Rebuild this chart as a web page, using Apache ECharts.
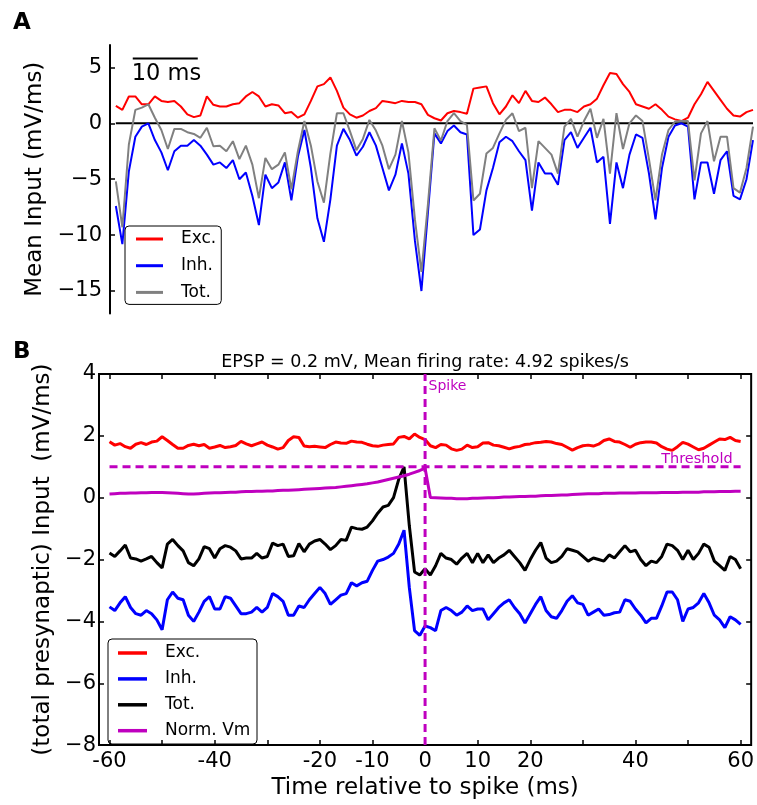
<!DOCTYPE html>
<html>
<head>
<meta charset="utf-8">
<script src="https://cdn.jsdelivr.net/npm/echarts@6/dist/echarts.min.js"></script>
<style>
  html, body { margin: 0; padding: 0; background: #fff; }
  #panelA { position: absolute; left: 0; top: 0; width: 757px; height: 330px; }
  #panelB { position: absolute; left: 0; top: 330px; width: 757px; height: 475px; }
</style>
</head>
<body>
<div id="panelA"></div>
<div id="panelB"></div>
<script>
// ---------- Panel A: mean input over a 100 ms window (1 ms samples) ----------
const excA = [
  1.55,1.2,2.4,2.4,1.7,1.7,2.4,2.0,1.9,2.0,
  1.5,0.8,0.55,0.7,2.4,1.65,1.5,1.5,1.7,1.8,
  2.4,2.8,2.4,1.5,1.7,1.6,0.9,1.0,0.5,0.8,
  2.0,3.3,3.5,4.1,2.9,1.4,0.8,0.5,0.7,1.1,
  1.35,2.0,1.9,1.8,2.0,1.9,1.9,1.7,0.75,0.45,
  0.25,0.9,1.1,1.0,0.85,3.1,3.2,3.3,1.8,0.8,
  1.5,2.5,1.8,2.9,2.0,1.9,2.3,1.7,1.0,1.2,
  1.2,1.0,1.5,1.7,2.2,3.4,4.5,4.4,3.5,2.8,
  1.7,1.5,1.3,1.7,1.2,0.6,0.35,0.2,0.5,1.7,
  2.6,3.7,2.9,2.1,1.3,0.7,0.6,1.0,1.2
];
const inhA = [
  -7.4,-10.8,-4.3,-1.2,-0.3,0,-1.5,-2.6,-4.2,-2.5,
  -2.0,-2.0,-1.5,-2.0,-2.8,-3.7,-3.5,-4.0,-3.3,-5.0,
  -4.4,-6.5,-9.1,-4.6,-5.8,-5.3,-3.5,-6.9,-3.0,-0.6,
  -4.0,-8.5,-10.6,-6.8,-2.0,-0.5,-1.5,-2.9,-2.1,-0.8,
  -2.0,-4.0,-6.0,-4.6,-1.8,-4.5,-10.5,-15.0,-8.0,-0.9,
  -1.8,-0.7,-0.2,-0.8,-1.0,-10.0,-9.5,-6.0,-4.0,-1.7,
  -1.2,-1.6,-2.5,-3.3,-7.8,-3.5,-4.5,-4.5,-5.5,-1.5,
  -0.8,-2.2,-1.3,-0.4,-3.5,-3.0,-9.0,-3.5,-5.8,-2.8,
  -1.0,-1.3,-4.5,-8.6,-4.0,-1.2,-0.2,0,-0.3,-6.8,
  -3.5,-3.5,-6.3,-3.3,-2.5,-6.5,-6.8,-5.0,-1.5
];
const totA = [
  -5.2,-9.3,-1.9,1.2,1.4,1.7,0.5,-0.6,-2.3,-0.5,
  -0.5,-0.8,-0.95,-1.3,-0.4,-2.05,-2.0,-2.5,-1.6,-3.2,
  -2.0,-3.7,-6.7,-3.1,-4.1,-3.7,-2.6,-5.9,-2.5,0.2,
  -2.0,-5.2,-7.1,-2.7,0.9,0.9,-0.7,-2.4,-1.4,0.3,
  -0.65,-2.0,-4.1,-2.8,0.2,-2.6,-8.6,-13.3,-7.25,-0.45,
  -1.55,0.2,0.9,0.2,-0.15,-6.9,-6.3,-2.7,-2.2,-0.9,
  0.3,0.9,-0.7,-0.4,-5.8,-1.6,-2.2,-2.8,-4.5,-0.3,
  0.4,-1.2,0.2,1.3,-1.3,0.4,-4.5,0.9,-2.3,0.0,
  0.7,0.2,-3.2,-6.9,-2.8,-0.6,0.15,0.2,0.2,-5.1,
  -0.9,0.2,-3.4,-1.2,-1.2,-5.8,-6.2,-4.0,-0.3
];
const yTicksA = [-15, -10, -5, 0, 5];
const scaleBarMs = [2.6, 12.6];   // 10 ms scale bar
const scaleBarLevel = 5.8;
const stepA = 1;                  // ms between samples

// ---------- Panel B: spike-triggered averages (1 ms samples, -60..60 ms) ----------
const excB = [
  1.81,1.7,1.75,1.65,1.6,1.73,1.78,1.72,1.8,1.83,
  1.97,1.85,1.72,1.6,1.6,1.69,1.73,1.68,1.72,1.6,
  1.64,1.69,1.62,1.65,1.69,1.82,1.74,1.68,1.74,1.8,
  1.7,1.64,1.57,1.62,1.85,1.97,1.95,1.67,1.65,1.66,
  1.64,1.62,1.72,1.8,1.77,1.76,1.83,1.8,1.79,1.73,
  1.68,1.66,1.7,1.72,1.74,1.95,1.98,1.9,2.06,1.95,
  1.88,1.68,1.62,1.72,1.7,1.58,1.53,1.57,1.7,1.62,
  1.65,1.77,1.78,1.7,1.68,1.63,1.58,1.63,1.66,1.72,
  1.74,1.78,1.79,1.82,1.8,1.75,1.72,1.63,1.54,1.62,
  1.68,1.7,1.67,1.73,1.85,1.9,1.82,1.8,1.72,1.63,
  1.73,1.78,1.8,1.8,1.77,1.65,1.57,1.53,1.65,1.79,
  1.73,1.64,1.55,1.6,1.7,1.8,1.9,1.88,1.95,1.85,
  1.82
];
const inhB = [
  -3.53,-3.65,-3.4,-3.2,-3.55,-3.75,-3.8,-3.65,-3.75,-3.95,
  -4.27,-3.3,-3.05,-3.25,-3.3,-3.8,-4.0,-3.7,-3.35,-3.2,
  -3.6,-3.6,-3.2,-3.25,-3.5,-3.75,-3.75,-3.7,-3.55,-3.7,
  -3.55,-3.1,-3.2,-3.35,-3.8,-3.8,-3.5,-3.55,-3.3,-3.1,
  -2.9,-3.1,-3.45,-3.3,-3.15,-3.1,-2.75,-2.85,-2.75,-2.7,
  -2.35,-2.05,-2.0,-1.92,-1.8,-1.5,-1.05,-2.9,-4.3,-4.45,
  -4.15,-4.2,-4.3,-3.65,-3.55,-3.65,-3.8,-3.7,-3.5,-3.65,
  -3.6,-3.6,-3.95,-3.75,-3.55,-3.4,-3.3,-3.55,-3.75,-4.05,
  -3.75,-3.45,-3.2,-3.65,-3.85,-3.9,-3.65,-3.35,-3.17,-3.4,
  -3.45,-3.8,-3.7,-3.6,-3.8,-3.78,-3.72,-3.7,-3.3,-3.35,
  -3.6,-3.8,-4.05,-3.9,-3.9,-3.5,-3.05,-3.05,-3.3,-4.0,
  -3.6,-3.55,-3.4,-3.1,-3.4,-3.8,-3.95,-4.2,-3.85,-3.95,
  -4.1
];
const totB = [
  -1.79,-1.9,-1.72,-1.53,-1.95,-1.98,-2.05,-1.98,-1.9,-2.1,
  -2.27,-1.5,-1.35,-1.55,-1.72,-2.1,-2.2,-1.98,-1.58,-1.65,
  -1.95,-1.65,-1.55,-1.6,-1.72,-1.98,-1.95,-1.95,-1.8,-1.95,
  -1.9,-1.47,-1.55,-1.5,-1.9,-1.88,-1.48,-1.75,-1.5,-1.4,
  -1.35,-1.5,-1.68,-1.55,-1.35,-1.38,-0.95,-1.0,-1.02,-0.95,
  -0.75,-0.5,-0.3,-0.25,0.0,0.6,1.0,-0.9,-2.4,-2.5,
  -2.3,-2.5,-2.2,-1.8,-1.95,-2.0,-2.15,-1.95,-1.8,-2.1,
  -1.8,-2.1,-1.85,-2.1,-1.95,-1.85,-1.7,-1.9,-2.1,-2.35,
  -2.0,-1.7,-1.45,-1.95,-2.1,-2.05,-1.9,-1.65,-1.7,-1.75,
  -1.9,-2.05,-1.95,-2.0,-2.05,-1.85,-1.95,-1.75,-1.55,-1.75,
  -1.7,-2.0,-2.2,-2.05,-2.1,-1.9,-1.5,-1.55,-1.7,-2.0,
  -1.7,-2.0,-1.8,-1.5,-1.6,-2.05,-2.2,-2.35,-1.9,-2.0,
  -2.3
];
const vmB = [
  0.12,0.13,0.14,0.14,0.15,0.15,0.16,0.16,0.17,0.17,
  0.17,0.16,0.15,0.14,0.13,0.12,0.12,0.13,0.14,0.15,
  0.16,0.16,0.17,0.18,0.18,0.19,0.2,0.2,0.21,0.21,
  0.22,0.22,0.23,0.24,0.24,0.25,0.26,0.27,0.28,0.29,
  0.3,0.31,0.32,0.33,0.35,0.37,0.39,0.41,0.43,0.45,
  0.48,0.51,0.55,0.59,0.63,0.67,0.71,0.76,0.82,0.88,
  0.95,0.01,0.0,-0.01,-0.02,-0.02,-0.03,-0.03,-0.03,-0.02,
  -0.02,-0.01,0.0,0.0,0.01,0.02,0.02,0.03,0.04,0.04,
  0.05,0.05,0.06,0.07,0.07,0.08,0.09,0.09,0.1,0.11,
  0.12,0.13,0.13,0.13,0.14,0.14,0.14,0.15,0.15,0.15,
  0.15,0.16,0.16,0.16,0.16,0.17,0.17,0.17,0.17,0.18,
  0.18,0.18,0.18,0.19,0.19,0.19,0.2,0.2,0.2,0.21,
  0.21
];
const tStartB = -60;
const stepB = 1;
const xTicksB = [-60,-50,-40,-30,-20,-10,0,10,20,30,40,50,60];
const xLabelsB = [-60,-40,-20,-10,0,10,20,40,60];
const yTicksB = [-8,-6,-4,-2,0,2,4];
const threshold = 1;
const spikeTime = 0;
const titleB = 'EPSP = 0.2 mV, Mean firing rate: 4.92 spikes/s';

// ---------- helpers ----------
const FONT = '"DejaVu Sans", "Liberation Sans", sans-serif';
const minusSign = v => String(v).replace('-', '\u2212');
const timeAxis = (n, start, step) => { const t = []; for (let i = 0; i < n; i++) t.push(start + i * step); return t; };
const pairs = (t, v) => t.map((x, i) => [x, v[i]]);
const lineSeries = (name, t, v, color, width, extra) => Object.assign({
  name, type: 'line', data: pairs(t, v), symbol: 'none', showSymbol: false, z: 2,
  lineStyle: { color, width, type: 'solid' }, itemStyle: { color }, silent: true, animation: false
}, extra || {});
const tickStyle = values => ({ show: true, inside: true, length: 5, customValues: values, lineStyle: { color: '#000', width: 1.5 } });
const noLine = { show: false, onZero: false };

const tA = timeAxis(excA.length, 0, stepA);
const tB = timeAxis(excB.length, tStartB, stepB);

// ---------- Panel A chart ----------
const chartA = echarts.init(document.getElementById('panelA'), null, { renderer: 'canvas' });
chartA.setOption({
  animation: false,
  backgroundColor: '#fff',
  textStyle: { fontFamily: FONT },
  grid: { left: 110, right: 4, top: 45, height: 268.4, containLabel: false },
  xAxis: { type: 'value', min: -0.9, max: tA[tA.length - 1], show: false, axisLine: noLine },
  yAxis: {
    type: 'value', min: -17, max: 7,
    axisLine: { show: true, onZero: false, lineStyle: { color: '#000', width: 2 } },
    axisTick: tickStyle(yTicksA),
    axisLabel: { customValues: yTicksA, formatter: minusSign, fontSize: 21, color: '#000', fontFamily: FONT, margin: 8 },
    splitLine: { show: false },
    name: 'Mean Input (mV/ms)', nameLocation: 'middle', nameGap: 56,
    nameTextStyle: { fontSize: 23, color: '#000', fontFamily: FONT }
  },
  legend: {
    data: ['Exc.', 'Inh.', 'Tot.'],
    orient: 'vertical', left: 125, top: 226,
    icon: 'rect', itemWidth: 27, itemHeight: 3,
    padding: [3, 5, 2, 11], itemGap: 6.7,
    backgroundColor: '#fff', borderColor: '#000', borderWidth: 1, borderRadius: 4,
    textStyle: { fontSize: 17, color: '#000', fontFamily: FONT, lineHeight: 20, height: 20, padding: [0, 0, 0, 13] },
    selectedMode: false
  },
  series: [
    lineSeries('zero', [tA[0], tA[tA.length - 1]], [0, 0], '#000', 2),
    lineSeries('Exc.', tA, excA, '#ff0000', 2),
    lineSeries('Inh.', tA, inhA, '#0000ff', 2),
    lineSeries('Tot.', tA, totA, '#808080', 2),
    lineSeries('scale', scaleBarMs, [scaleBarLevel, scaleBarLevel], '#000', 2)
  ]
});
const barStart = chartA.convertToPixel({ gridIndex: 0 }, [scaleBarMs[0], scaleBarLevel]);
chartA.setOption({
  graphic: [
    { type: 'text', x: 13, y: 23.5, style: { text: 'A', fill: '#000', font: 'bold 23px ' + FONT, verticalAlign: 'middle' } },
    { type: 'text', x: barStart[0] - 1, y: barStart[1] + 16, style: { text: '10 ms', fill: '#000', font: '22.5px ' + FONT, verticalAlign: 'middle' } }
  ]
});

// ---------- Panel B chart ----------
const chartB = echarts.init(document.getElementById('panelB'), null, { renderer: 'canvas' });
const magenta = '#bf00bf';
const dashed = { color: magenta, width: 3, type: [8, 5] };
const traceSeries = [
  lineSeries('Exc.', tB, excB, '#ff0000', 3),
  lineSeries('Inh.', tB, inhB, '#0000ff', 3),
  lineSeries('Tot.', tB, totB, '#000000', 3),
  lineSeries('Norm. Vm', tB, vmB, magenta, 3)
];
chartB.setOption({
  animation: false,
  backgroundColor: '#fff',
  textStyle: { fontFamily: FONT },
  grid: { left: 99, right: 5, top: 44, bottom: 52, show: true, borderColor: '#000', borderWidth: 2, backgroundColor: 'transparent' },
  xAxis: [
    {
      type: 'value', min: -62, max: 62, position: 'bottom',
      axisLine: noLine,
      axisTick: tickStyle(xTicksB),
      axisLabel: { customValues: xLabelsB, fontSize: 21, color: '#000', fontFamily: FONT, margin: 6 },
      splitLine: { show: false },
      name: 'Time relative to spike (ms)', nameLocation: 'middle', nameGap: 26,
      nameTextStyle: { fontSize: 23, color: '#000', fontFamily: FONT, verticalAlign: 'top' }
    },
    {
      type: 'value', min: -62, max: 62, position: 'top',
      axisLine: noLine,
      axisTick: tickStyle(xTicksB),
      axisLabel: { show: false }, splitLine: { show: false }
    }
  ],
  yAxis: [
    {
      type: 'value', min: -8, max: 4, position: 'left',
      axisLine: noLine,
      axisTick: tickStyle(yTicksB),
      axisLabel: { customValues: yTicksB, formatter: minusSign, fontSize: 21, color: '#000', fontFamily: FONT, margin: 3 },
      splitLine: { show: false },
      name: '(total presynaptic) Input  (mV/ms)', nameLocation: 'middle', nameGap: 41,
      nameTextStyle: { fontSize: 23, color: '#000', fontFamily: FONT }
    },
    {
      type: 'value', min: -8, max: 4, position: 'right',
      axisLine: noLine,
      axisTick: tickStyle(yTicksB),
      axisLabel: { show: false }, splitLine: { show: false }
    }
  ],
  series: traceSeries.concat([
    lineSeries('threshold', [tB[0], tB[tB.length - 1]], [threshold, threshold], magenta, 3, { z: 3, lineStyle: dashed }),
    lineSeries('spike', [spikeTime, spikeTime], [-8, 4], magenta, 3, { z: 3, lineStyle: dashed })
  ])
});

// Legend box for panel B, built from the trace series (key bar + name per row)
const legendB = { left: 108, top: 309, width: 149, height: 105, firstRow: 14, rowGap: 25.9, keyX: 10, keyW: 29, textX: 57 };
const legendChildren = [{
  type: 'rect', shape: { x: 0, y: 0, width: legendB.width, height: legendB.height, r: 4 },
  style: { fill: '#fff', stroke: '#000', lineWidth: 1 }
}];
traceSeries.forEach((s, i) => {
  const y = legendB.firstRow + i * legendB.rowGap;
  legendChildren.push({ type: 'line', shape: { x1: legendB.keyX, y1: y, x2: legendB.keyX + legendB.keyW, y2: y },
    style: { stroke: s.lineStyle.color, lineWidth: 3.5 } });
  legendChildren.push({ type: 'text', x: legendB.textX, y: y,
    style: { text: s.name, fill: '#000', font: '17px ' + FONT, verticalAlign: 'middle' } });
});

const spikeTop = chartB.convertToPixel({ gridIndex: 0 }, [spikeTime, 4]);
const threshEnd = chartB.convertToPixel({ gridIndex: 0 }, [tB[tB.length - 1], threshold]);
const plotMid = chartB.convertToPixel({ gridIndex: 0 }, [0, 0]);
chartB.setOption({
  graphic: [
    { type: 'text', x: 13, y: 22.5, style: { text: 'B', fill: '#000', font: 'bold 23px ' + FONT, verticalAlign: 'middle' } },
    { type: 'text', x: plotMid[0], y: 32, style: { text: titleB, fill: '#000', font: '17.5px ' + FONT, align: 'center', verticalAlign: 'middle' } },
    { type: 'text', x: spikeTop[0] + 3.5, y: spikeTop[1] + 12, style: { text: 'Spike', fill: magenta, font: '14px ' + FONT, verticalAlign: 'middle' } },
    { type: 'text', x: threshEnd[0] - 8, y: threshEnd[1] - 8, style: { text: 'Threshold', fill: magenta, font: '14.5px ' + FONT, align: 'right', verticalAlign: 'middle' } },
    { type: 'group', x: legendB.left, y: legendB.top, z: 100, children: legendChildren }
  ]
});
</script>
</body>
</html>
